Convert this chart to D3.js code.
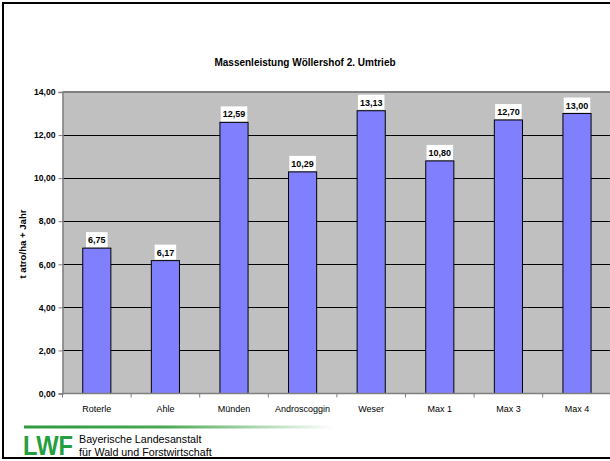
<!DOCTYPE html>
<html><head><meta charset="utf-8">
<script src="https://cdn.jsdelivr.net/npm/d3@7"></script>
<style>body{margin:0;background:#fff}svg{display:block}</style>
</head><body>
<script>
const categories = ["Roterle","Ahle","Münden","Androscoggin","Weser","Max 1","Max 3","Max 4"];
const values = [6.75, 6.17, 12.59, 10.29, 13.13, 10.80, 12.70, 13.00];
const yTicks = [0,2,4,6,8,10,12,14];
const title = "Massenleistung Wöllershof 2. Umtrieb";
const yTitle = "t atro/ha + Jahr";
const fmt = v => v.toFixed(2).replace(".", ",");

const W = 610, H = 461;
const svg = d3.select("body").append("svg").attr("width", W).attr("height", H);
const font = "Arial, 'Liberation Sans', sans-serif";

// outer frame
svg.append("rect").attr("x",3).attr("y",3).attr("width",W+10).attr("height",455)
  .attr("fill","#fff").attr("stroke","#000").attr("stroke-width",2);

const L = 62.5, R = 611.3, T = 92, B = 393.5;
const x = d3.scaleBand().domain(categories).range([L, R]).paddingInner(0.59).paddingOuter(0.295);
const y = d3.scaleLinear().domain([0,14]).range([B, T]);

svg.append("rect").attr("x",L).attr("y",T).attr("width",R-L).attr("height",B-T).attr("fill","#c0c0c0");

// gridlines
svg.append("g").selectAll("line").data(yTicks.filter(d=>d>0 && d<14)).join("line")
  .attr("x1",L).attr("x2",R).attr("y1",d=>Math.round(y(d))+0.5).attr("y2",d=>Math.round(y(d))+0.5)
  .attr("stroke","#000").attr("stroke-width",1);
// top border
svg.append("line").attr("x1",L).attr("x2",R).attr("y1",T).attr("y2",T).attr("stroke","#808080").attr("stroke-width",2);

// bars
svg.append("g").selectAll("rect").data(values).join("rect")
  .attr("x",(d,i)=>x(categories[i])).attr("width",x.bandwidth())
  .attr("y",d=>y(d)).attr("height",d=>B-y(d))
  .attr("fill","#8080ff").attr("stroke","#000").attr("stroke-width",1);

// y axis
const ya = svg.append("g").attr("transform",`translate(${L},0)`)
  .call(d3.axisLeft(y).tickValues(yTicks).tickFormat(fmt).tickSize(4).tickPadding(3));
ya.select(".domain").attr("stroke","#808080").attr("stroke-width",1.5);
ya.selectAll(".tick line").attr("stroke","#808080");
ya.selectAll("text").attr("font-family",font).attr("font-size",8.6).attr("font-weight","bold").attr("fill","#000");

// x axis
const step = x.step();
const xa = svg.append("g").attr("transform",`translate(0,${B})`);
xa.append("line").attr("x1",L).attr("x2",R).attr("stroke","#808080").attr("stroke-width",1.5);
xa.selectAll("line.t").data(d3.range(categories.length+1)).join("line").attr("class","t")
  .attr("x1",i=>L+i*step).attr("x2",i=>L+i*step).attr("y1",0).attr("y2",4).attr("stroke","#808080");
xa.selectAll("text").data(categories).join("text")
  .attr("x",d=>x(d)+x.bandwidth()/2).attr("y",18.5).attr("text-anchor","middle")
  .attr("font-family",font).attr("font-size",9).attr("fill","#000").text(d=>d);

// value labels
const lg = svg.append("g");
values.forEach((v,i)=>{
  const cx = x(categories[i]) + x.bandwidth()/2;
  const ty = y(v);
  const g = lg.append("g");
  const t = g.append("text").attr("x",cx).attr("y",ty-5).attr("text-anchor","middle")
    .attr("font-family",font).attr("font-size",9).attr("font-weight","bold").text(fmt(v));
  const bb = t.node().getBBox();
  g.insert("rect","text").attr("x",bb.x-2).attr("y",ty-16).attr("width",bb.width+4).attr("height",15).attr("fill","#fff");
});

// title
svg.append("text").attr("x",305).attr("y",66).attr("text-anchor","middle")
  .attr("font-family",font).attr("font-size",10).attr("font-weight","bold").text(title);
// y title
svg.append("text").attr("transform","translate(25.5,244) rotate(-90)").attr("text-anchor","middle")
  .attr("font-family",font).attr("font-size",9.6).attr("font-weight","bold").text(yTitle);

// footer
const defs = svg.append("defs");
const gr = defs.append("linearGradient").attr("id","gl");
gr.append("stop").attr("offset","0").attr("stop-color","#2e9a3e");
gr.append("stop").attr("offset","0.45").attr("stop-color","#4aa852");
gr.append("stop").attr("offset","1").attr("stop-color","#ffffff");
svg.append("rect").attr("x",24).attr("y",425.5).attr("width",310).attr("height",3).attr("fill","url(#gl)");
svg.append("text").attr("x",23).attr("y",455).attr("font-family",font).attr("font-size",28)
  .attr("font-weight","bold").attr("fill","#22a040").attr("textLength",50).attr("lengthAdjust","spacingAndGlyphs").text("LWF");
svg.append("text").attr("x",79).attr("y",443).attr("font-family",font).attr("font-size",10.7).text("Bayerische Landesanstalt");
svg.append("text").attr("x",79).attr("y",456).attr("font-family",font).attr("font-size",10.7).text("für Wald und Forstwirtschaft");
</script>
</body></html>
